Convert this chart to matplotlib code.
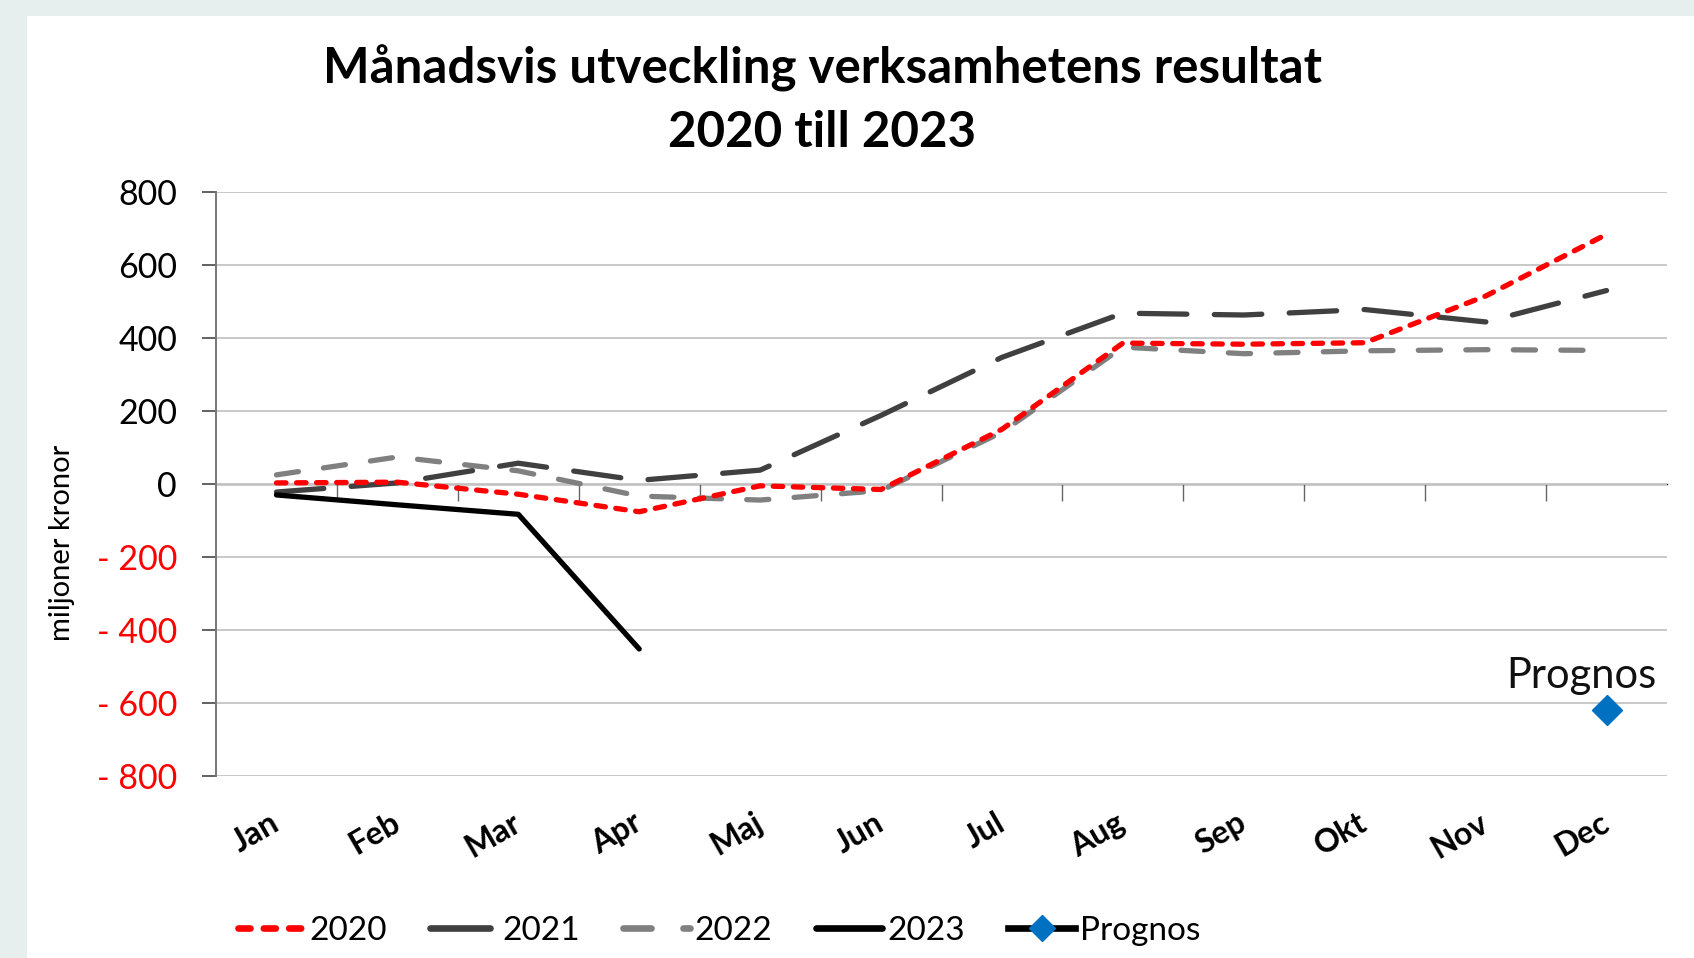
import matplotlib
matplotlib.use("Agg")
import matplotlib.pyplot as plt
from matplotlib.patches import Rectangle
from matplotlib.ticker import FixedLocator, FuncFormatter

plt.rcParams['font.family'] = ['Lato', 'DejaVu Sans']

months = ['Jan', 'Feb', 'Mar', 'Apr', 'Maj', 'Jun', 'Jul', 'Aug', 'Sep', 'Okt', 'Nov', 'Dec']
y2020 = [3, 5, -28, -76, -5, -15, 150, 386, 383, 387, 515, 684]
y2021 = [-22, 3, 57, 10, 38, 188, 347, 468, 463, 478, 444, 530]
y2022 = [25, 74, 36, -33, -44, -18, 142, 375, 357, 365, 368, 366]
y2023 = [-30, -57, -83, -452]
prognos_month = ['Dec']
prognos = [-620]
yticks = [-800, -600, -400, -200, 0, 200, 400, 600, 800]

fig = plt.figure(figsize=(16.94, 9.58), dpi=100)
fig.patch.set_facecolor('#E6EEEE')
fig.patches.append(Rectangle((27 / 1694, 0), 1 - 27 / 1694, 1 - 16 / 958,
                             transform=fig.transFigure, facecolor='white',
                             edgecolor='none', zorder=-10))

ax = fig.add_axes([216 / 1694, 1 - 776 / 958, (1667 - 216) / 1694, (776 - 192) / 958])
ax.set_facecolor('none')

x = list(range(len(months)))
lw = 3.8
ax.plot(x, y2020, color='#FF0000', lw=lw, dashes=(1.8, 2.0), dash_capstyle='round',
        solid_capstyle='round', label='2020', zorder=5)
ax.plot(x, y2021, color='#404040', lw=lw, dashes=(9.0, 5.2), dash_capstyle='round',
        label='2021', zorder=4)
ax.plot(x, y2022, color='#808080', lw=lw, dashes=(4.2, 4.8), dash_capstyle='round',
        label='2022', zorder=3)
ax.plot(x[:len(y2023)], y2023, color='#000000', lw=lw, solid_capstyle='round',
        label='2023', zorder=6)
px = [months.index(m) for m in prognos_month]
ax.plot(px, prognos, color='#000000', lw=lw * 1.2, marker='D', markersize=15,
        markerfacecolor='#0070C0', markeredgecolor='#0070C0', label='Prognos', zorder=7)
for xi, yi in zip(px, prognos):
    ax.annotate('Prognos', (xi, yi), xytext=(-18, 11), textcoords='offset points',
                ha='center', va='bottom', fontsize=30, color='#111111')

ax.set_xlim(-0.5, 11.5)
ax.set_ylim(-800, 800)

ax.yaxis.set_major_locator(FixedLocator(yticks))
ax.yaxis.set_major_formatter(FuncFormatter(lambda v, p: f"- {abs(int(v))}" if v < 0 else f"{int(v)}"))
ax.tick_params(axis='y', direction='out', length=10, width=1.3, color='#555555',
               labelsize=24.5, pad=18)
for lab, v in zip(ax.get_yticklabels(), yticks):
    lab.set_color('#FF0000' if v < 0 else '#000000')

ax.grid(axis='y', color='#C8C8C8', lw=1.4, zorder=0)
ax.set_axisbelow(True)

for s in ['top', 'right', 'bottom']:
    ax.spines[s].set_visible(False)
ax.spines['left'].set_color('#777777')
ax.spines['left'].set_linewidth(1.4)

ax.set_xticks(x)
ax.set_xticklabels(months, rotation=30, ha='right', va='center', rotation_mode='anchor',
                   fontweight='bold', fontsize=23)
ax.tick_params(axis='x', length=0, pad=32)

sec = ax.secondary_xaxis(0.5)
sec.set_alignment('bottom')
sec.set_xticks([i + 0.5 for i in x[:-1]])
sec.set_xticklabels([])
sec.tick_params(axis='x', direction='out', length=12, width=1.0, color='#666666')
sec.spines['bottom'].set_color('#000000')
sec.spines['bottom'].set_linewidth(1.0)

fig.text(62 / 1694, 1 - 543 / 958, 'miljoner kronor', rotation=90, ha='center',
         va='center', fontsize=21)

fig.text(822 / 1694, 1 - 100 / 958, 'Månadsvis utveckling verksamhetens resultat\n2020 till 2023',
         ha='center', va='center', fontsize=35.5, fontweight='bold', linespacing=1.5)

leg = fig.legend(loc='center', bbox_to_anchor=(719 / 1694, 1 - 931 / 958), ncol=5,
                 frameon=False, fontsize=24, handlelength=2.0, columnspacing=1.3,
                 handletextpad=0.15, markerscale=0.9)
for ln in leg.get_lines():
    ln.set_linewidth(4.8)

fig.savefig('out.png', dpi=100, facecolor=fig.get_facecolor())
